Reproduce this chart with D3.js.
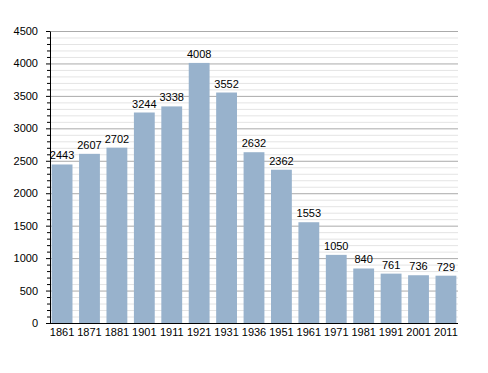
<!DOCTYPE html>
<html>
<head>
<meta charset="utf-8">
<script src="https://cdn.jsdelivr.net/npm/d3@7"></script>
<style>
  body { margin: 0; background: #fff; }
  text { font-family: "Liberation Sans", Arial, sans-serif; }
</style>
</head>
<body>
<svg width="488" height="373"></svg>
<script>
// population by census year
var years = ["1861", "1871", "1881", "1901", "1911", "1921", "1931", "1936", "1951", "1961", "1971", "1981", "1991", "2001", "2011"];
var population = [2443, 2607, 2702, 3244, 3338, 4008, 3552, 2632, 2362, 1553, 1050, 840, 761, 736, 729];
var yTicks = [0, 500, 1000, 1500, 2000, 2500, 3000, 3500, 4000, 4500];

var svg = d3.select("svg"),
  margin = {top: 31, right: 30, bottom: 50, left: 50},
  width = +svg.attr("width") - margin.left - margin.right,
  height = +svg.attr("height") - margin.top - margin.bottom;

var g = svg.append("g").attr("transform", "translate(" + margin.left + "," + margin.top + ")");

var x = d3.scaleBand().domain(years).range([0, width]).paddingInner(0.24).paddingOuter(0.06);
var y = d3.scaleLinear().domain([0, 4500]).range([height, 0]);

// minor grid every 100
var minor = d3.range(100, 4501, 100).filter(function (v) { return v % 500 !== 0; });
g.append("g").selectAll("line").data(minor).enter().append("line")
  .attr("x1", 0).attr("x2", width)
  .attr("y1", function (d) { return y(d) + 0.5; })
  .attr("y2", function (d) { return y(d) + 0.5; })
  .style("stroke", "#e4e4e4");

// major grid every 500
g.append("g").selectAll("line").data(yTicks.slice(1)).enter().append("line")
  .attr("x1", 0).attr("x2", width)
  .attr("y1", function (d) { return y(d) + 0.5; })
  .attr("y2", function (d) { return y(d) + 0.5; })
  .style("stroke", "#aaaaaa");

// bars
g.append("g").selectAll("rect").data(population).enter().append("rect")
  .attr("x", function (d, i) { return x(years[i]); })
  .attr("y", function (d) { return y(d); })
  .attr("width", x.bandwidth())
  .attr("height", function (d) { return height - y(d); })
  .style("fill", "#98b2cc");

// value labels
g.append("g").selectAll("text").data(population).enter().append("text")
  .attr("x", function (d, i) { return x(years[i]) + x.bandwidth() / 2; })
  .attr("y", function (d) { return y(d) - 5; })
  .attr("text-anchor", "middle")
  .style("font-size", "11px")
  .text(function (d) { return d; });

// y axis with minor ticks
g.append("g")
  .call(d3.axisLeft(y).tickValues(minor).tickSize(3).tickFormat(""))
  .call(function (a) { a.select(".domain").remove(); });
var yAxis = g.append("g")
  .call(d3.axisLeft(y).tickValues(yTicks).tickSize(4).tickSizeOuter(0).tickPadding(8).tickFormat(d3.format("d")));
yAxis.selectAll("text").style("font-size", "11px");

// x axis
var xAxis = g.append("g")
  .attr("transform", "translate(0," + height + ")")
  .call(d3.axisBottom(x).tickSize(0).tickPadding(5));
xAxis.select(".domain").attr("d", "M0,0.5H" + width);
xAxis.selectAll("text").style("font-size", "11px");
</script>
</body>
</html>
